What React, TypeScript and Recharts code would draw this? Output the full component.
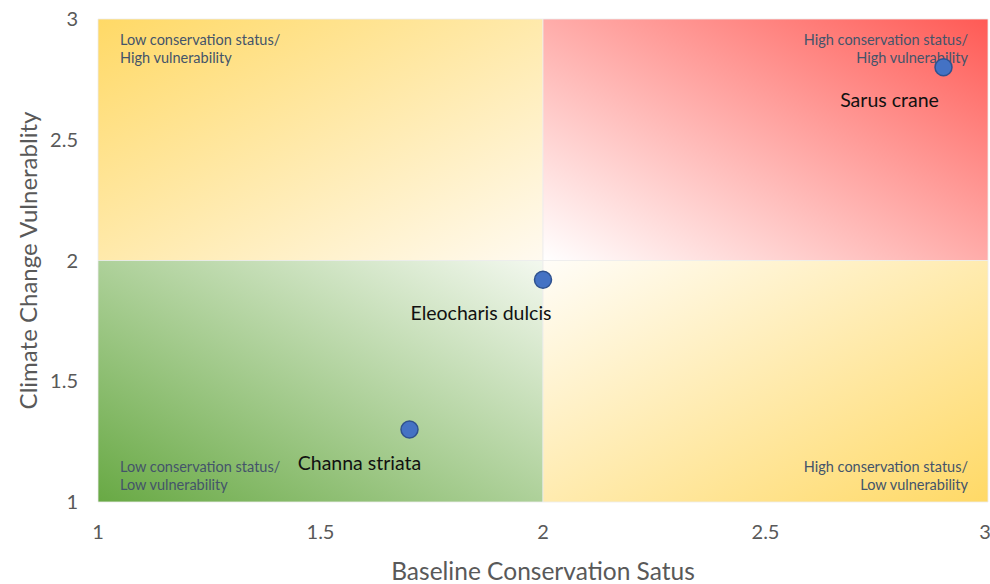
import React from 'react';
import {
  ScatterChart,
  Scatter,
  XAxis,
  YAxis,
  ReferenceArea,
  Label,
} from 'recharts';

// species plotted on the matrix
const species = ['Sarus crane', 'Eleocharis dulcis', 'Channa striata'];
const conservationStatus = [2.9, 2.0, 1.7];
const vulnerability = [2.8, 1.92, 1.3];

const axisTicks = [1, 1.5, 2, 2.5, 3];
const midPoint = 2;

const quadrantText = {
  topLeft: ['Low conservation status/', 'High vulnerability'],
  topRight: ['High conservation status/', 'High vulnerability'],
  bottomLeft: ['Low conservation status/', 'Low vulnerability'],
  bottomRight: ['High conservation status/', 'Low vulnerability'],
};

const data = species.map((name, i) => ({
  name,
  x: conservationStatus[i],
  y: vulnerability[i],
}));

// horizontal shift of each species label, relative to its dot
const labelShift: Record<string, number> = {
  'Sarus crane': -54,
  'Eleocharis dulcis': -62,
  'Channa striata': -50,
};

const FONT = 'Lato, "Open Sans", sans-serif';
const GREY = '#595959';

function QuadrantLabel(props: any) {
  const { viewBox, lines, align, valign } = props;
  const { x, y, width, height } = viewBox;
  const tx = align === 'start' ? x + 22 : x + width - 20;
  const base = valign === 'top' ? y + 26 : y + height - 30;
  return (
    <text
      x={tx}
      y={base}
      textAnchor={align}
      fill="#44546A"
      fontSize={14.5}
      fontFamily={FONT}
    >
      {lines.map((l: string, i: number) => (
        <tspan key={i} x={tx} y={base + i * 18}>
          {l}
        </tspan>
      ))}
    </text>
  );
}

function Dot(props: any) {
  const { cx, cy, payload } = props;
  return (
    <g>
      <circle cx={cx} cy={cy} r={8.5} fill="#4472C4" stroke="#2F528F" strokeWidth={1.5} />
      <text
        x={cx + (labelShift[payload.name] ?? -55)}
        y={cy + 40}
        textAnchor="middle"
        fontSize={19.5}
        fontFamily={FONT}
        fill="#111"
      >
        {payload.name}
      </text>
    </g>
  );
}

export default function App() {
  return (
    <div style={{ position: 'absolute', left: 0, top: 0, background: '#fff' }}>
      <ScatterChart width={990} height={584} margin={{ top: 19, right: 2, bottom: 0, left: 0 }}>
        <defs>
          <linearGradient id="gTL" x1="0" y1="0" x2="1" y2="1">
            <stop offset="0%" stopColor="#FFD966" />
            <stop offset="100%" stopColor="#FFFAF0" />
          </linearGradient>
          <linearGradient id="gTR" x1="1" y1="0" x2="0" y2="1">
            <stop offset="0%" stopColor="#FF5A55" />
            <stop offset="100%" stopColor="#FFFFFF" />
          </linearGradient>
          <linearGradient id="gBL" x1="0" y1="1" x2="1" y2="0">
            <stop offset="0%" stopColor="#68A944" />
            <stop offset="100%" stopColor="#F3F8EF" />
          </linearGradient>
          <linearGradient id="gBR" x1="1" y1="1" x2="0" y2="0">
            <stop offset="0%" stopColor="#FFD966" />
            <stop offset="100%" stopColor="#FFFDF8" />
          </linearGradient>
        </defs>
        <XAxis
          type="number"
          dataKey="x"
          domain={[1, 3]}
          ticks={axisTicks}
          axisLine={false}
          tickLine={false}
          tickSize={0}
          tickMargin={23}
          height={82}
          tick={{ fill: GREY, fontSize: 20, fontFamily: FONT }}
        >
          <Label
            value="Baseline Conservation Satus"
            position="insideBottom"
            offset={4}
            style={{ fill: GREY, fontSize: 24.5, fontFamily: FONT }}
          />
        </XAxis>
        <YAxis
          type="number"
          dataKey="y"
          domain={[1, 3]}
          ticks={axisTicks}
          axisLine={false}
          tickLine={false}
          tickSize={0}
          tickMargin={20}
          width={98}
          tick={{ fill: GREY, fontSize: 20, fontFamily: FONT }}
        >
          <Label
            value="Climate Change Vulnerablity"
            angle={-90}
            position="insideLeft"
            offset={0}
            content={(p: any) => {
              const vb = p.viewBox;
              const cx = vb.x + 27;
              const cy = vb.y + vb.height / 2;
              return (
                <text
                  x={cx}
                  y={cy}
                  transform={`rotate(-90 ${cx} ${cy})`}
                  textAnchor="middle"
                  dominantBaseline="central"
                  fill={GREY}
                  fontSize={24}
                  fontFamily={FONT}
                >
                  Climate Change Vulnerablity
                </text>
              );
            }}
          />
        </YAxis>
        <ReferenceArea
          x1={1}
          x2={midPoint}
          y1={midPoint}
          y2={3}
          fill="url(#gTL)"
          fillOpacity={1}
          stroke="#ececec"
          strokeWidth={0.8}
          label={(p: any) => (
            <QuadrantLabel viewBox={p.viewBox} lines={quadrantText.topLeft} align="start" valign="top" />
          )}
        />
        <ReferenceArea
          x1={midPoint}
          x2={3}
          y1={midPoint}
          y2={3}
          fill="url(#gTR)"
          fillOpacity={1}
          stroke="#ececec"
          strokeWidth={0.8}
          label={(p: any) => (
            <QuadrantLabel viewBox={p.viewBox} lines={quadrantText.topRight} align="end" valign="top" />
          )}
        />
        <ReferenceArea
          x1={1}
          x2={midPoint}
          y1={1}
          y2={midPoint}
          fill="url(#gBL)"
          fillOpacity={1}
          stroke="#ececec"
          strokeWidth={0.8}
          label={(p: any) => (
            <QuadrantLabel viewBox={p.viewBox} lines={quadrantText.bottomLeft} align="start" valign="bottom" />
          )}
        />
        <ReferenceArea
          x1={midPoint}
          x2={3}
          y1={1}
          y2={midPoint}
          fill="url(#gBR)"
          fillOpacity={1}
          stroke="#ececec"
          strokeWidth={0.8}
          label={(p: any) => (
            <QuadrantLabel viewBox={p.viewBox} lines={quadrantText.bottomRight} align="end" valign="bottom" />
          )}
        />
        <Scatter data={data} shape={<Dot />} isAnimationActive={false} />
      </ScatterChart>
    </div>
  );
}
